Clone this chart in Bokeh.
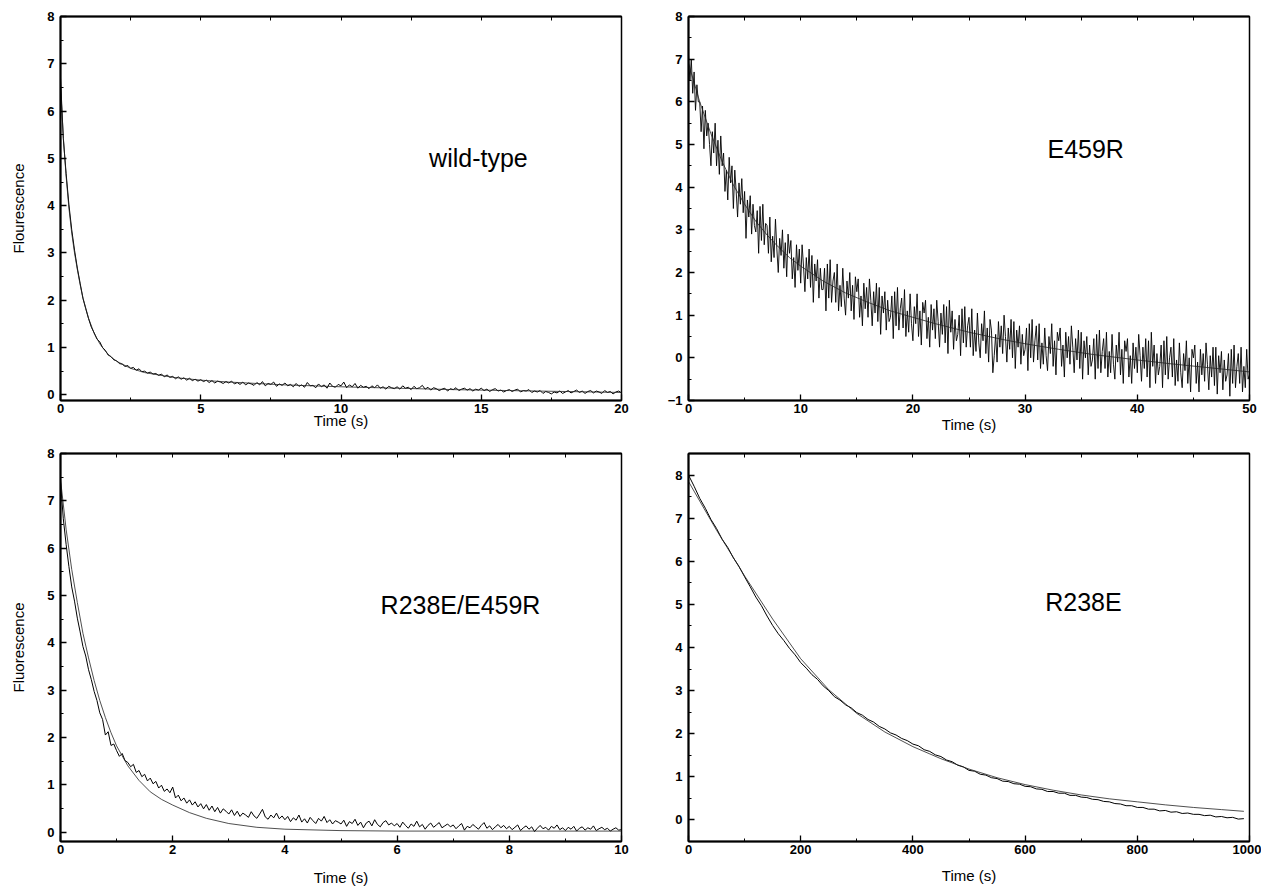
from bokeh.plotting import figure
from bokeh.models import Range1d, LinearAxis, SingleIntervalTicker, FixedTicker, Label
from bokeh.layouts import gridplot
from bokeh.embed import file_html
from bokeh.resources import INLINE

FONT = "Liberation Sans"

# ---------------- wild-type (top-left) ----------------
wt_dt = 0.1  # s between samples
wt_signal = [
    6.70, 5.42, 4.68, 4.02, 3.49, 3.06, 2.68, 2.36, 2.04, 1.82,
    1.61, 1.43, 1.31, 1.18, 1.12, 1.00, 0.94, 0.84, 0.81, 0.74,
    0.72, 0.66, 0.65, 0.60, 0.62, 0.56, 0.58, 0.52, 0.55, 0.49,
    0.50, 0.46, 0.48, 0.44, 0.45, 0.41, 0.44, 0.38, 0.42, 0.37,
    0.39, 0.34, 0.38, 0.33, 0.36, 0.31, 0.35, 0.30, 0.33, 0.29,
    0.32, 0.28, 0.31, 0.26, 0.30, 0.25, 0.29, 0.27, 0.24, 0.28,
    0.25, 0.29, 0.23, 0.26, 0.22, 0.27, 0.21, 0.25, 0.23, 0.20,
    0.26, 0.21, 0.28, 0.19, 0.24, 0.22, 0.27, 0.18, 0.23, 0.20,
    0.25, 0.19, 0.22, 0.17, 0.24, 0.18, 0.21, 0.16, 0.26, 0.19,
    0.20, 0.15, 0.23, 0.17, 0.21, 0.14, 0.25, 0.18, 0.16, 0.22,
    0.19, 0.27, 0.15, 0.21, 0.17, 0.24, 0.14, 0.20, 0.16, 0.18,
    0.13, 0.19, 0.15, 0.21, 0.14, 0.17, 0.12, 0.18, 0.15, 0.13,
    0.17, 0.12, 0.19, 0.14, 0.16, 0.11, 0.18, 0.13, 0.15, 0.20,
    0.12, 0.16, 0.10, 0.15, 0.13, 0.09, 0.12, 0.14, 0.08, 0.13,
    0.11, 0.15, 0.09, 0.12, 0.14, 0.10, 0.13, 0.08, 0.12, 0.10,
    0.14, 0.09, 0.12, 0.07, 0.11, 0.13, 0.08, 0.10, 0.06, 0.09,
    0.11, 0.07, 0.10, 0.12, 0.06, 0.09, 0.08, 0.11, 0.05, 0.08,
    0.06, 0.09, 0.03, 0.07, 0.05, 0.02, 0.06, 0.04, 0.08, 0.03,
    0.06, 0.09, 0.04, 0.07, 0.10, 0.05, 0.08, 0.03, 0.07, 0.09,
    0.04, 0.08, 0.06, 0.03, 0.09, 0.05, 0.07, 0.02, 0.06, 0.08,
    0.04,
]
wt_fit_t = [0, 0.1, 0.2, 0.3, 0.4, 0.5, 0.6, 0.7, 0.8, 1.0, 1.2, 1.4, 1.6, 1.8, 2.0,
            2.5, 3, 4, 5, 6, 7, 8, 9, 10, 12, 14, 16, 18, 20]
wt_fit_y = [6.55, 5.45, 4.62, 3.95, 3.42, 3.00, 2.65, 2.33, 2.05, 1.62, 1.30, 1.08, 0.92,
            0.80, 0.71, 0.56, 0.47, 0.37, 0.31, 0.27, 0.24, 0.21, 0.19, 0.17, 0.14, 0.11,
            0.09, 0.07, 0.05]

# ---------------- E459R (top-right) ----------------
e4_dt = 0.125
e4_signal = [
    7.1, 6.5, 7.0, 6.2, 6.7, 5.8, 6.4, 6.0,
    6.0, 5.3, 5.9, 4.9, 5.8, 5.2, 5.5, 5.0,
    4.5, 5.3, 4.8, 5.5, 4.5, 5.1, 4.3, 5.2,
    4.5, 4.8, 3.9, 4.4, 3.7, 4.7, 4.1, 4.5,
    3.5, 4.4, 3.9, 3.3, 4.1, 3.6, 4.2, 3.4,
    3.9, 2.8, 3.7, 3.3, 3.8, 2.9, 3.6, 3.1,
    2.95, 3.45, 2.45, 3.55, 2.75, 3.6, 2.65, 3.15,
    3.1, 2.45, 3.3, 2.25, 2.85, 2.35, 3.25, 2.55,
    2.0, 2.8, 2.4, 3.0, 2.1, 2.7, 1.9, 2.9,
    2.45, 2.75, 1.85, 2.35, 1.65, 2.65, 2.05, 2.55,
    1.75, 2.65, 2.15, 1.55, 2.35, 1.85, 2.55, 1.65,
    2.4, 1.3, 2.2, 1.8, 2.3, 1.4, 2.1, 1.6,
    1.6, 2.1, 1.1, 2.2, 1.4, 2.3, 1.3, 1.8,
    2.0, 1.3, 2.2, 1.1, 1.7, 1.2, 2.1, 1.4,
    1.0, 1.8, 1.4, 2.0, 1.1, 1.7, 0.9, 1.9,
    1.55, 1.85, 0.95, 1.45, 0.75, 1.75, 1.15, 1.65,
    0.95, 1.85, 1.35, 0.75, 1.55, 1.05, 1.75, 0.85,
    1.65, 0.55, 1.45, 1.05, 1.55, 0.65, 1.35, 0.85,
    0.95, 1.45, 0.45, 1.55, 0.75, 1.65, 0.65, 1.15,
    1.4, 0.7, 1.6, 0.5, 1.1, 0.6, 1.5, 0.8,
    0.4, 1.2, 0.8, 1.5, 0.5, 1.1, 0.3, 1.3,
    1.05, 1.35, 0.45, 0.95, 0.25, 1.25, 0.65, 1.15,
    0.45, 1.35, 0.85, 0.25, 1.05, 0.55, 1.25, 0.35,
    1.2, 0.1, 1.35, 0.6, 1.1, 0.2, 0.9, 0.4,
    0.55, 1.0, 0.05, 1.15, 0.35, 1.2, 0.25, 0.75,
    0.95, 0.25, 1.15, 0.05, 0.65, 0.15, 1.05, 0.35,
    0.0, 0.8, 0.4, 1.1, 0.1, 0.7, -0.1, 0.9,
    0.65, -0.35, 0.05, 0.55, -0.1, 0.85, 0.25, 0.75,
    0.1, 1.0, 0.5, -0.1, 0.7, 0.2, 0.9, 0.0,
    0.85, -0.25, 0.65, 0.25, 0.75, -0.15, 0.55, 0.05,
    0.2, 0.7, -0.3, 0.8, 0.0, 0.9, -0.1, 0.4,
    0.75, -0.05, 0.8, -0.25, 0.35, -0.15, 0.7, 0.05,
    -0.3, 0.5, 0.1, 0.8, -0.2, 0.4, -0.4, 0.6,
    0.4, 0.7, -0.2, 0.3, -0.45, 0.6, 0.0, 0.5,
    -0.15, 0.75, 0.25, -0.35, 0.45, -0.05, 0.65, -0.25,
    0.6, -0.5, 0.4, 0.0, 0.5, -0.4, 0.3, -0.2,
    -0.05, 0.45, -0.5, 0.55, -0.25, 0.65, -0.35, 0.15,
    0.45, -0.25, 0.6, -0.45, 0.15, -0.35, 0.55, -0.15,
    -0.5, 0.3, -0.1, 0.6, -0.4, 0.2, -0.6, 0.4,
    0.15, 0.45, -0.45, 0.05, -0.6, 0.35, -0.25, 0.25,
    -0.35, 0.55, 0.05, -0.55, 0.25, -0.25, 0.45, -0.45,
    0.4, -0.7, 0.6, -0.2, 0.3, -0.6, 0.1, -0.4,
    -0.2, 0.3, -0.7, 0.4, -0.4, 0.5, -0.5, 0.0,
    0.25, -0.45, 0.45, -0.65, -0.05, -0.55, 0.35, -0.35,
    -0.7, 0.1, -0.3, 0.4, -0.6, 0.0, -0.8, 0.2,
    0.0, 0.3, -0.6, -0.1, -0.8, 0.2, -0.4, 0.1,
    -0.55, 0.35, -0.15, -0.75, 0.05, -0.45, 0.25, -0.65,
    0.25, -0.85, 0.05, -0.35, 0.15, -0.75, -0.05, -0.55,
    -0.4, 0.1, -0.9, 0.2, -0.6, 0.3, -0.7, -0.2,
    0.1, -0.6, 0.25, -0.8, -0.2, -0.7, 0.2, -0.5,
    -0.4,
]
e4_fit_t = [0, 1, 2, 3, 4, 5, 6, 7, 8, 9, 10, 12, 14, 16, 18, 20, 22, 25, 28, 30,
            33, 36, 40, 43, 46, 50]
e4_fit_y = [6.9, 6.0, 5.25, 4.6, 4.05, 3.6, 3.2, 2.88, 2.6, 2.35, 2.15, 1.8, 1.52, 1.3,
            1.1, 0.95, 0.8, 0.6, 0.43, 0.33, 0.2, 0.08, -0.05, -0.14, -0.22, -0.33]

# ---------------- R238E/E459R (bottom-left) ----------------
dm_dt = 0.05
dm_signal = [
    7.40, 6.62, 6.08, 5.61, 5.18, 4.88, 4.52, 4.23, 3.92, 3.72, 3.43, 3.22, 2.97, 2.78, 2.52, 2.38, 2.05, 2.12, 1.83, 1.86,
    1.72, 1.60, 1.66, 1.51, 1.47, 1.38, 1.43, 1.26, 1.30, 1.17, 1.22, 1.08, 1.14, 1.02, 1.07, 0.93, 0.99, 0.86, 0.91, 0.83,
    0.95, 0.72, 0.78, 0.66, 0.72, 0.61, 0.68, 0.57, 0.64, 0.53, 0.60, 0.49, 0.58, 0.46, 0.55, 0.43, 0.52, 0.40, 0.49, 0.44,
    0.38, 0.47, 0.35, 0.44, 0.33, 0.40, 0.36, 0.31, 0.43, 0.34, 0.29, 0.38, 0.48, 0.32, 0.27, 0.36, 0.30, 0.40, 0.28, 0.34,
    0.26, 0.33, 0.22, 0.30, 0.25, 0.36, 0.21, 0.28, 0.19, 0.31, 0.24, 0.18, 0.29, 0.23, 0.33, 0.20, 0.26, 0.17, 0.24, 0.21,
    0.17, 0.25, 0.12, 0.22, 0.18, 0.27, 0.14, 0.21, 0.09, 0.19, 0.23, 0.13, 0.26, 0.16, 0.11, 0.20, 0.24, 0.15, 0.19, 0.13,
    0.18, 0.10, 0.21, 0.14, 0.08, 0.17, 0.12, 0.23, 0.11, 0.16, 0.06, 0.14, 0.19, 0.10, 0.15, 0.20, 0.09, 0.13, 0.17, 0.11,
    0.15, 0.07, 0.13, 0.18, 0.04, 0.12, 0.09, 0.16, 0.11, 0.06, 0.14, 0.20, 0.08, 0.13, 0.05, 0.11, 0.16, 0.09, 0.14, 0.07,
    0.12, 0.05, 0.10, 0.15, 0.03, 0.09, 0.13, 0.06, 0.11, 0.01, 0.08, 0.14, 0.07, 0.10, 0.04, 0.12, 0.08, 0.15, 0.05, 0.09,
    0.03, 0.10, 0.06, 0.12, 0.02, 0.08, 0.11, 0.04, 0.09, 0.06, 0.13, 0.03, 0.07, 0.10, 0.05, 0.08, 0.02, 0.06, 0.09, 0.04,
    0.05,
]
dm_fit_t = [0, 0.1, 0.2, 0.3, 0.4, 0.5, 0.6, 0.7, 0.8, 0.9, 1.0, 1.2, 1.4, 1.6, 1.8, 2.0,
            2.3, 2.6, 3.0, 3.5, 4.0, 5, 6, 8, 10]
dm_fit_y = [7.45, 6.4, 5.55, 4.85, 4.2, 3.68, 3.2, 2.78, 2.42, 2.1, 1.82, 1.4, 1.09, 0.85,
            0.69, 0.57, 0.41, 0.29, 0.18, 0.1, 0.06, 0.03, 0.02, 0.02, 0.02]

# ---------------- R238E (bottom-right) ----------------
r2_dt = 10.0
r2_signal = [
    8.00, 7.74, 7.46, 7.23, 6.97, 6.76, 6.51, 6.32, 6.08, 5.88,
    5.64, 5.41, 5.17, 4.97, 4.73, 4.51, 4.32, 4.16, 3.98, 3.83,
    3.65, 3.52, 3.37, 3.26, 3.11, 3.00, 2.86, 2.78, 2.67, 2.60,
    2.49, 2.43, 2.33, 2.27, 2.17, 2.11, 2.02, 1.97, 1.89, 1.84,
    1.76, 1.72, 1.63, 1.59, 1.51, 1.47, 1.39, 1.35, 1.27, 1.23,
    1.15, 1.13, 1.06, 1.04, 0.98, 0.96, 0.90, 0.89, 0.84, 0.83,
    0.78, 0.77, 0.72, 0.71, 0.66, 0.66, 0.62, 0.62, 0.57, 0.57,
    0.53, 0.52, 0.48, 0.47, 0.43, 0.42, 0.38, 0.37, 0.33, 0.33,
    0.29, 0.29, 0.25, 0.25, 0.21, 0.22, 0.18, 0.19, 0.15, 0.16,
    0.13, 0.13, 0.10, 0.11, 0.07, 0.08, 0.05, 0.06, 0.02, 0.03,
]
r2_fit_t = [0, 50, 100, 150, 200, 250, 300, 350, 400, 450, 500, 550, 600, 650, 700,
            750, 800, 850, 900, 950, 990]
r2_fit_y = [7.85, 6.72, 5.66, 4.66, 3.74, 3.02, 2.47, 2.04, 1.70, 1.42, 1.18, 0.98, 0.82,
            0.69, 0.58, 0.49, 0.42, 0.35, 0.29, 0.24, 0.20]


def times(dt, n):
    return [i * dt for i in range(n)]


def panel(width, height, borders, xr, yr, xint, yint, top_ticks, xlabel, ylabel,
          xlab_standoff, ylab_standoff):
    bl, br, bt, bb = borders
    p = figure(width=width, height=height, x_range=Range1d(*xr), y_range=Range1d(*yr),
               output_backend="svg", toolbar_location=None, tools="",
               min_border_left=bl, min_border_right=br, min_border_top=bt,
               min_border_bottom=bb, x_axis_type=None, y_axis_type=None)
    p.outline_line_color = "black"
    p.outline_line_width = 1.5
    p.outline_line_alpha = 1.0
    p.background_fill_color = "white"
    p.border_fill_color = "white"

    def style(ax):
        ax.axis_line_color = "black"
        ax.axis_line_width = 2
        ax.major_tick_in = 6
        ax.major_tick_out = 0
        ax.minor_tick_in = 3
        ax.minor_tick_out = 0
        ax.major_tick_line_width = 1.3
        ax.minor_tick_line_width = 1
        ax.major_tick_line_color = "black"
        ax.minor_tick_line_color = "black"
        ax.major_label_text_font = FONT
        ax.major_label_text_font_style = "bold"
        ax.major_label_text_font_size = "13px"
        ax.major_label_text_color = "black"
        ax.axis_label_text_font = FONT
        ax.axis_label_text_font_style = "normal"
        ax.axis_label_text_font_size = "15px"
        ax.axis_label_text_color = "black"

    xa = LinearAxis(ticker=SingleIntervalTicker(interval=xint, num_minor_ticks=2),
                    axis_label=xlabel)
    style(xa)
    xa.major_label_standoff = 3
    xa.axis_label_standoff = xlab_standoff
    p.add_layout(xa, "below")

    ya = LinearAxis(ticker=SingleIntervalTicker(interval=yint, num_minor_ticks=2),
                    axis_label=ylabel)
    style(ya)
    ya.major_label_standoff = 6
    ya.axis_label_standoff = ylab_standoff
    p.add_layout(ya, "left")

    ta = LinearAxis(ticker=FixedTicker(ticks=[], minor_ticks=top_ticks))
    style(ta)
    ta.minor_tick_in = 4
    ta.major_label_standoff = 0
    p.add_layout(ta, "above")
    return p


def add_label(p, x, y, text):
    p.add_layout(Label(x=x, y=y, text=text, text_align="center", text_baseline="middle",
                       text_font=FONT, text_font_size="25px", text_color="black"))


# top-left
p1 = panel(640, 440, (60, 19, 16, 40), (0, 20), (-0.12, 8), 5, 1,
           [2.5, 5, 7.5, 10, 12.5, 15, 17.5], "Time (s)", "Flourescence", -4, 17)
p1.line(times(wt_dt, len(wt_signal)), wt_signal, line_color="black", line_width=1)
p1.line(wt_fit_t, wt_fit_y, line_color="#222222", line_width=0.8)
add_label(p1, 14.9, 5.0, "wild-type")

# top-right
p2 = panel(621, 440, (48, 12, 13, 37), (0, 50), (-1, 8), 10, 1,
           [5, 10, 15, 20, 25, 30, 35, 40, 45], "Time (s)", None, 0, 12)
p2.line(times(e4_dt, len(e4_signal)), e4_signal, line_color="black", line_width=0.9)
p2.line(e4_fit_t, e4_fit_y, line_color="#222222", line_width=0.8)
add_label(p2, 35.4, 4.9, "E459R")

# bottom-left
p3 = panel(640, 452, (60, 19, 13, 49), (0, 10), (-0.2, 8), 2, 1,
           [1, 2, 3, 4, 5, 6, 7, 8, 9], "Time (s)", "Fluorescence", 12, 17)
p3.line(times(dm_dt, len(dm_signal)), dm_signal, line_color="black", line_width=1)
p3.line(dm_fit_t, dm_fit_y, line_color="#222222", line_width=0.8)
add_label(p3, 7.13, 4.8, "R238E/E459R")

# bottom-right
p4 = panel(621, 452, (48, 12, 11, 51), (0, 1000), (-0.5, 8.5), 200, 1,
           [100, 200, 300, 400, 500, 600, 700, 800, 900], "Time (s)", None, 10, 12)
p4.line(times(r2_dt, len(r2_signal)), r2_signal, line_color="black", line_width=1)
p4.line(r2_fit_t, r2_fit_y, line_color="#222222", line_width=0.8)
add_label(p4, 704, 5.06, "R238E")

grid = gridplot([[p1, p2], [p3, p4]], toolbar_location=None)

open("out.html", "w").write(file_html(grid, INLINE))
